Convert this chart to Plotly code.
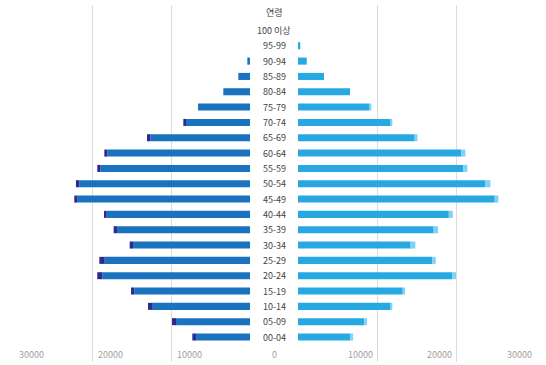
import plotly.graph_objects as go

ages = ["00-04", "05-09", "10-14", "15-19", "20-24", "25-29", "30-34", "35-39",
        "40-44", "45-49", "50-54", "55-59", "60-64", "65-69", "70-74", "75-79",
        "80-84", "85-89", "90-94", "95-99", "100 이상"]
header = "연령"

# left side (male): main + tail segment
male_main = [6840, 9360, 12400, 14640, 18700, 18390, 14810, 16840,
             18140, 21820, 21610, 18910, 18060, 12620, 8190, 6580,
             3380, 1480, 340, 0, 0]
male_tail = [460, 510, 510, 420, 630, 680, 420, 420,
             340, 420, 420, 420, 380, 420, 250, 0,
             0, 0, 0, 0, 0]
# right side (female): main + tail segment
female_main = [6600, 8360, 11640, 13200, 19420, 16900, 14200, 17100,
               19010, 24800, 23620, 20850, 20600, 14710, 11680, 8950,
               6560, 3280, 1100, 290, 0]
female_tail = [340, 340, 250, 290, 500, 460, 590, 550,
               500, 460, 630, 500, 500, 340, 210, 300,
               0, 0, 0, 0, 0]

axis_ticks = [10000, 20000, 30000]

rows = list(range(len(ages)))
left_main_c = "#1b72bf"
left_tail_c = "#2b2b8e"
right_main_c = "#27a8e1"
right_tail_c = "#80d2f5"
bw = 0.46

fig = go.Figure()
fig.add_trace(go.Bar(y=rows, x=male_main, orientation="h", xaxis="x", yaxis="y",
                     marker=dict(color=left_main_c, line=dict(width=0)), width=bw))
fig.add_trace(go.Bar(y=rows, x=male_tail, base=male_main, orientation="h", xaxis="x", yaxis="y",
                     marker=dict(color=left_tail_c, line=dict(width=0)), width=bw))
fig.add_trace(go.Bar(y=rows, x=female_main, orientation="h", xaxis="x2", yaxis="y",
                     marker=dict(color=right_main_c, line=dict(width=0)), width=bw))
fig.add_trace(go.Bar(y=rows, x=female_tail, base=female_main, orientation="h", xaxis="x2", yaxis="y",
                     marker=dict(color=right_tail_c, line=dict(width=0)), width=bw))

W, H = 546, 365
grid_c = "#dcdcdc"
fig.update_layout(
    width=W, height=H,
    margin=dict(l=0, r=0, t=5, b=3),
    paper_bgcolor="white", plot_bgcolor="white",
    showlegend=False, barmode="overlay",
    xaxis=dict(domain=[13 / W, 250 / W], range=[30000, 0], showgrid=True, gridcolor=grid_c,
               gridwidth=1, tickvals=[0] + axis_ticks, showticklabels=False, zeroline=False,
               showline=False, fixedrange=True),
    xaxis2=dict(domain=[298 / W, 536 / W], range=[0, 30000], showgrid=True, gridcolor=grid_c,
                gridwidth=1, tickvals=[0] + axis_ticks, showticklabels=False, zeroline=False,
                showline=False, fixedrange=True),
    yaxis=dict(range=[-1.63, 21.66], showgrid=False, showticklabels=False, zeroline=False,
               showline=False, fixedrange=True),
    font=dict(family="Noto Sans CJK KR, Noto Sans, sans-serif"),
)

ann = []
label_font = dict(size=9, color="#444444", family="Noto Sans CJK KR")
for r, a in zip(rows, ages):
    ann.append(dict(x=274 / W, xref="paper", y=r, yref="y", text=a, showarrow=False,
                    font=label_font, xanchor="center", yanchor="middle"))
ann.append(dict(x=274 / W, xref="paper", y=21.15, yref="y", text=header, showarrow=False,
                font=label_font, xanchor="center", yanchor="middle"))

tick_font = dict(size=9, color="#a0a0a0", family="Noto Sans CJK KR")
tick_y = -1.17
for v in axis_ticks:
    ann.append(dict(x=v, xref="x", y=tick_y, yref="y", text=str(v), showarrow=False,
                    font=tick_font, xanchor="center", yanchor="middle", xshift=18))
    ann.append(dict(x=v, xref="x2", y=tick_y, yref="y", text=str(v), showarrow=False,
                    font=tick_font, xanchor="center", yanchor="middle", xshift=-17))
ann.append(dict(x=274 / W, xref="paper", y=tick_y, yref="y", text="0", showarrow=False,
                font=tick_font, xanchor="center", yanchor="middle"))
fig.update_layout(annotations=ann)

fig.write_html("out.html")
